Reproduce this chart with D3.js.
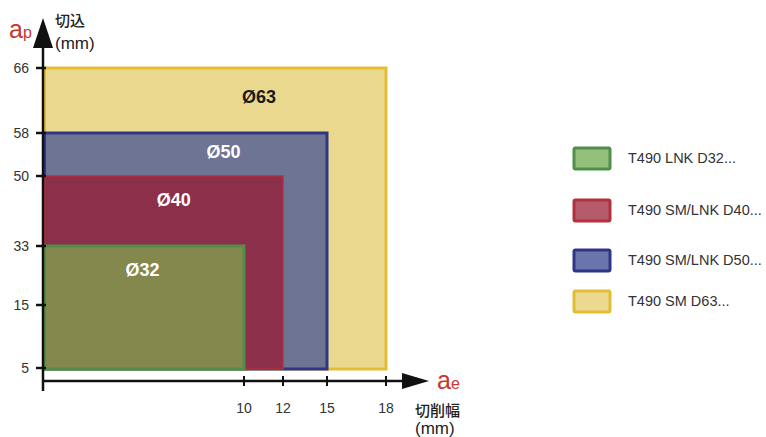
<!DOCTYPE html>
<html>
<head>
<meta charset="utf-8">
<script src="https://cdn.jsdelivr.net/npm/d3@7"></script>
<style>
  html, body { margin: 0; padding: 0; background: #fff; }
  svg { display: block; font-family: "Liberation Sans", Arial, "Noto Sans CJK JP", sans-serif; }
</style>
</head>
<body>
<svg id="chart" width="766" height="437"></svg>
<script>
// Cutter series: diameter label, legend name, max width of cut (ae), max depth of cut (ap)
const cutters = ["Ø63", "Ø50", "Ø40", "Ø32"];
const legendNames = ["T490 SM D63...", "T490 SM/LNK D50...", "T490 SM/LNK D40...", "T490 LNK D32..."];
const aeMax = [18, 15, 12, 10];
const apMax = [66, 58, 50, 33];
const apMin = 5;

const yTicks = [5, 15, 33, 50, 58, 66];
const xTicks = [10, 12, 15, 18];

const fills   = ["#ebd88f", "#6e7594", "#8c2f4b", "#84884c"];
const strokes = ["#e3bd33", "#2f3686", "#b3303f", "#4f8f4a"];
const labelColors = ["#1a1a1a", "#ffffff", "#ffffff", "#ffffff"];
const legendFills = ["#ebd991", "#6a74ad", "#b65b6c", "#94c07b"];

const svg = d3.select("#chart");

// Axes are not uniformly spaced: piecewise-linear scales over the tick values
const y = d3.scaleLinear().domain(yTicks).range([368, 305, 246, 176, 133, 68]);
const x = d3.scaleLinear().domain([0, 10, 12, 15, 18]).range([43, 244, 283, 327, 386]);

// Operating-range rectangles, largest first
const rects = svg.append("g");
cutters.forEach((c, i) => {
  const x0 = x(0) + 1.5, x1 = x(aeMax[i]);
  const y0 = y(apMax[i]), y1 = y(apMin) + 1;
  rects.append("rect")
    .attr("x", x0).attr("y", y0)
    .attr("width", x1 - x0).attr("height", y1 - y0)
    .attr("fill", fills[i])
    .attr("stroke", strokes[i])
    .attr("stroke-width", i === 2 ? 1.5 : 3);
});

// Diameter labels inside each range (placed in ae/ap units)
const labelPos = [[10.77, 62.5], [8.98, 54.5], [6.5, 44.4], [4.95, 25.7]];
cutters.forEach((c, i) => {
  svg.append("text")
    .attr("x", x(labelPos[i][0])).attr("y", y(labelPos[i][1]) + 6.5)
    .attr("text-anchor", "middle")
    .attr("font-size", 18).attr("font-weight", "bold")
    .attr("fill", labelColors[i])
    .text(c);
});

// Y axis
const axisG = svg.append("g");
axisG.append("line")
  .attr("x1", x(0)).attr("x2", x(0))
  .attr("y1", 391).attr("y2", 44)
  .attr("stroke", "#111").attr("stroke-width", 2.5);
axisG.append("path")
  .attr("d", `M${x(0)},18 L${x(0) - 10},48 L${x(0) + 10},48 Z`)
  .attr("fill", "#111");
yTicks.forEach(t => {
  axisG.append("line")
    .attr("x1", x(0) - 7).attr("x2", x(0) + 3)
    .attr("y1", y(t)).attr("y2", y(t))
    .attr("stroke", "#111").attr("stroke-width", 2.5);
  axisG.append("text")
    .attr("x", 29).attr("y", y(t) + 5)
    .attr("text-anchor", "end")
    .attr("font-size", 14).attr("fill", "#333")
    .text(t);
});

// X axis
const axisY = 381;
axisG.append("line")
  .attr("x1", x(0)).attr("x2", 410)
  .attr("y1", axisY).attr("y2", axisY)
  .attr("stroke", "#111").attr("stroke-width", 2.5);
axisG.append("path")
  .attr("d", `M429,${axisY} L402,${axisY - 8} L402,${axisY + 8} Z`)
  .attr("fill", "#111");
xTicks.forEach(t => {
  axisG.append("line")
    .attr("x1", x(t)).attr("x2", x(t))
    .attr("y1", axisY - 5).attr("y2", axisY + 5)
    .attr("stroke", "#111").attr("stroke-width", 2);
  axisG.append("text")
    .attr("x", x(t)).attr("y", 413)
    .attr("text-anchor", "middle")
    .attr("font-size", 14).attr("fill", "#333")
    .text(t);
});

// Axis titles
const apT = svg.append("text").attr("x", 9).attr("y", 38).attr("fill", "#c8372d");
apT.append("tspan").attr("font-size", 25).text("a");
apT.append("tspan").attr("font-size", 16).text("p");
svg.append("text").attr("x", 55).attr("y", 26).attr("font-size", 15)
  .attr("font-weight", 500).attr("fill", "#222").text("切込");
svg.append("text").attr("x", 55).attr("y", 49).attr("font-size", 17)
  .attr("font-weight", 500).attr("fill", "#222").text("(mm)");

const aeT = svg.append("text").attr("x", 437).attr("y", 389).attr("fill", "#c8372d");
aeT.append("tspan").attr("font-size", 25).text("a");
aeT.append("tspan").attr("font-size", 16).text("e");
svg.append("text").attr("x", 415).attr("y", 416).attr("font-size", 15)
  .attr("font-weight", 500).attr("fill", "#222").text("切削幅");
svg.append("text").attr("x", 415).attr("y", 434).attr("font-size", 17)
  .attr("font-weight", 500).attr("fill", "#222").text("(mm)");

// Legend (smallest cutter on top)
const legendY = [158, 210, 260, 301];
const order = [3, 2, 1, 0];
order.forEach((idx, k) => {
  const g = svg.append("g").attr("transform", `translate(574, ${legendY[k]})`);
  g.append("rect")
    .attr("x", 0).attr("y", -10).attr("width", 36).attr("height", 21)
    .attr("rx", 1.5)
    .attr("fill", legendFills[idx]).attr("stroke", strokes[idx]).attr("stroke-width", 3);
  g.append("text")
    .attr("x", 54).attr("y", 5)
    .attr("font-size", 14.5).attr("fill", "#333")
    .text(legendNames[idx]);
});
</script>
</body>
</html>
